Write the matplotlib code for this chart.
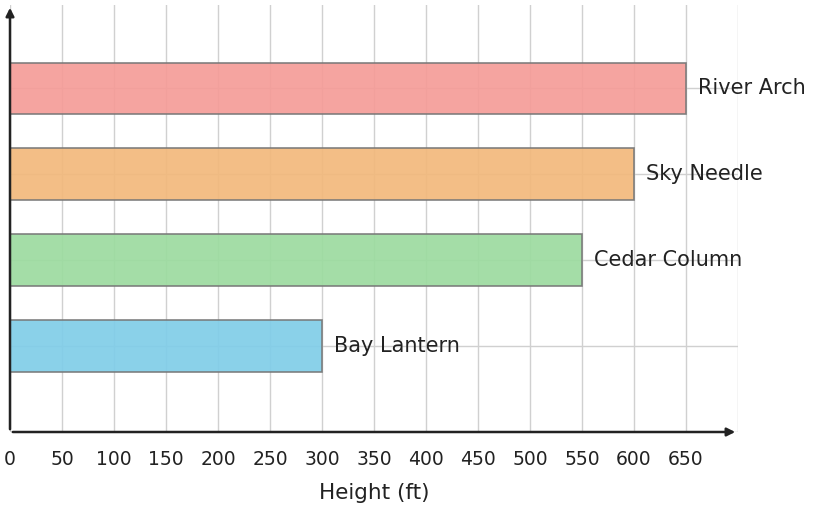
import matplotlib
matplotlib.use("Agg")
import matplotlib.pyplot as plt

names = ["Bay Lantern", "Cedar Column", "Sky Needle", "River Arch"]
heights = [300, 550, 600, 650]
colors = ["#80cde8", "#9cdba0", "#f2b97c", "#f59c98"]
xticks = list(range(0, 700, 50))

fig = plt.figure(figsize=(8.13, 5.08), dpi=100)
ax = fig.add_axes([10/813, 1-432/508, 728/813, 427/508])
ax.set_xlim(0, 700)
ax.set_ylim(-1, 3.97)
ys = list(range(len(names)))
ax.barh(ys, heights, height=0.6, color=colors, alpha=0.92, edgecolor="#777777", linewidth=1.2, zorder=2)
for y, h, n in zip(ys, heights, names):
    ax.text(h + 12, y, n, va="center", ha="left", fontsize=15, color="#222222")
ax.set_xticks(range(0, 701, 50))
ax.set_xticklabels([str(t) for t in xticks] + [""], fontsize=13.5, color="#222222")
ax.set_yticks([-1, 0, 1, 2, 3])
ax.set_yticklabels([])
ax.tick_params(length=0, pad=13)
ax.grid(True, color="#d0d0d0", linewidth=1, zorder=0)
for s in ["top", "right", "left", "bottom"]:
    ax.spines[s].set_visible(False)
ax.annotate("", xy=(1.0, 0), xytext=(0, 0), xycoords="axes fraction",
            arrowprops=dict(arrowstyle="-|>", color="#222222", lw=1.8, mutation_scale=12), zorder=5)
ax.annotate("", xy=(0, 1.0), xytext=(0, 0), xycoords="axes fraction",
            arrowprops=dict(arrowstyle="-|>", color="#222222", lw=1.8, mutation_scale=12), zorder=5)
ax.set_xlabel("Height (ft)", fontsize=15.5, color="#222222", labelpad=10)
fig.savefig("out.png", dpi=100)
